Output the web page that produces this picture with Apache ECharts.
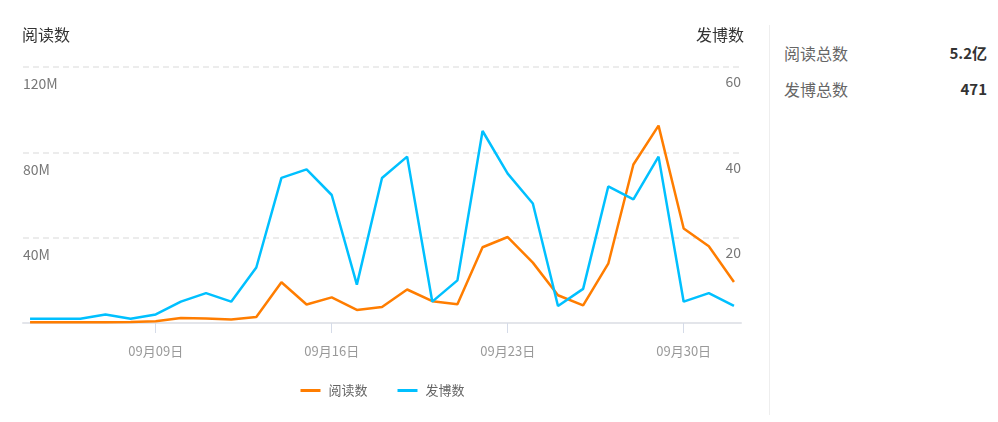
<!DOCTYPE html>
<html>
<head>
<meta charset="utf-8">
<script src="https://cdn.jsdelivr.net/npm/echarts@6/dist/echarts.min.js"></script>
<style>
  html, body { margin: 0; padding: 0; background: #fff; width: 998px; height: 422px; overflow: hidden; font-family: "Noto Sans CJK SC", "Noto Sans", sans-serif; }
  #chart { position: absolute; left: 0; top: 0; width: 765px; height: 422px; }
  #panel { position: absolute; left: 769px; top: 25px; width: 229px; height: 390px; border-left: 1px solid #eeeeee; }
  .row { position: absolute; left: 14px; width: 203px; height: 22px; line-height: 22px; font-size: 16px; }
  .row .k { position: absolute; left: 0; color: #666; }
  .row .v { position: absolute; right: 0; color: #333; font-weight: bold; font-size: 15px; }
</style>
</head>
<body>
<div id="chart"></div>
<div id="panel">
  <div class="row" style="top:17px"><span class="k" id="k1"></span><span class="v" id="v1"></span></div>
  <div class="row" style="top:53px"><span class="k" id="k2"></span><span class="v" id="v2"></span></div>
</div>
<script>
const dates = ['09月04日','09月05日','09月06日','09月07日','09月08日','09月09日','09月10日','09月11日','09月12日','09月13日',
  '09月14日','09月15日','09月16日','09月17日','09月18日','09月19日','09月20日','09月21日','09月22日','09月23日',
  '09月24日','09月25日','09月26日','09月27日','09月28日','09月29日','09月30日','10月01日','10月02日'];
const tickLabels = ['09月09日','09月16日','09月23日','09月30日'];
// 阅读数 (millions)
const reads = [0.4,0.4,0.4,0.4,0.5,0.8,2.3,2.1,1.6,2.8,
  19.1,8.7,12.0,6.1,7.5,15.7,10.2,8.8,35.5,40.3,
  28.3,13.0,8.3,27.8,74.3,92.5,44.3,36.0,19.2];
// 发博数
const posts = [1,1,1,2,1,2,5,7,5,13,
  34,36,30,9,34,39,5,10,45,35,
  28,4,8,32,29,39,5,7,4];
const seriesNames = ['阅读数','发博数'];
const leftTicks = [0,40,80,120];
const rightTicks = [0,20,40,60];
const summaryLabels = ['阅读总数','发博总数'];
const summaryValues = ['5.2亿','471'];

document.getElementById('k1').textContent = summaryLabels[0];
document.getElementById('v1').textContent = summaryValues[0];
document.getElementById('k2').textContent = summaryLabels[1];
document.getElementById('v2').textContent = summaryValues[1];

const tickIdx = tickLabels.map(t => dates.indexOf(t));
const font = '"Noto Sans CJK SC", "Noto Sans", sans-serif';

const chart = echarts.init(document.getElementById('chart'), null, { renderer: 'canvas' });
chart.setOption({
  animation: false,
  textStyle: { fontFamily: font },
  color: ['#ff7d00', '#00c0ff'],
  grid: { left: 23, right: 24, top: 67, bottom: 99, containLabel: false },
  legend: {
    bottom: 20, left: 'center',
    icon: 'rect', itemWidth: 20, itemHeight: 3, itemGap: 30,
    textStyle: { color: '#666', fontSize: 13, fontFamily: font, padding: [0, 0, 0, 3] },
    data: seriesNames
  },
  xAxis: {
    type: 'value',
    min: -0.28, max: dates.length - 1 + 0.28,
    splitLine: { show: false },
    axisLine: { show: true, lineStyle: { color: '#e3e5ea', width: 2 } },
    axisTick: { show: true, customValues: tickIdx, length: 10, lineStyle: { color: '#d5dbe8' } },
    axisLabel: { customValues: tickIdx, formatter: v => dates[Math.round(v)], color: '#999', fontSize: 13, margin: 22, fontFamily: font }
  },
  yAxis: [
    {
      type: 'value', min: leftTicks[0], max: leftTicks[leftTicks.length - 1], interval: leftTicks[1] - leftTicks[0],
      name: seriesNames[0], nameLocation: 'end', nameGap: 24,
      nameTextStyle: { color: '#333', fontSize: 16, align: 'left', padding: [0, 0, 0, -8], fontFamily: font },
      axisLine: { show: false }, axisTick: { show: false },
      axisLabel: { inside: true, margin: 0, showMinLabel: false, verticalAlign: 'top', padding: [10, 0, 0, 0], color: '#777', fontSize: 14, fontFamily: font, formatter: v => v + 'M' },
      splitLine: { show: true, lineStyle: { color: '#e6e6e6', type: [6, 4], width: 1.5 } }
    },
    {
      type: 'value', min: rightTicks[0], max: rightTicks[rightTicks.length - 1], interval: rightTicks[1] - rightTicks[0],
      position: 'right',
      name: seriesNames[1], nameLocation: 'end', nameGap: 24,
      nameTextStyle: { color: '#333', fontSize: 16, align: 'right', padding: [0, -3, 0, 0], fontFamily: font },
      axisLine: { show: false }, axisTick: { show: false },
      axisLabel: { inside: true, margin: 0, showMinLabel: false, verticalAlign: 'top', padding: [8, 0, 0, 0], color: '#777', fontSize: 14, fontFamily: font },
      splitLine: { show: false }
    }
  ],
  series: [
    { name: seriesNames[0], type: 'line', yAxisIndex: 0, symbol: 'none', lineStyle: { width: 2.5 }, data: reads.map((v, i) => [i, v]) },
    { name: seriesNames[1], type: 'line', yAxisIndex: 1, symbol: 'none', lineStyle: { width: 2.5 }, data: posts.map((v, i) => [i, v]) }
  ]
});
</script>
</body>
</html>
